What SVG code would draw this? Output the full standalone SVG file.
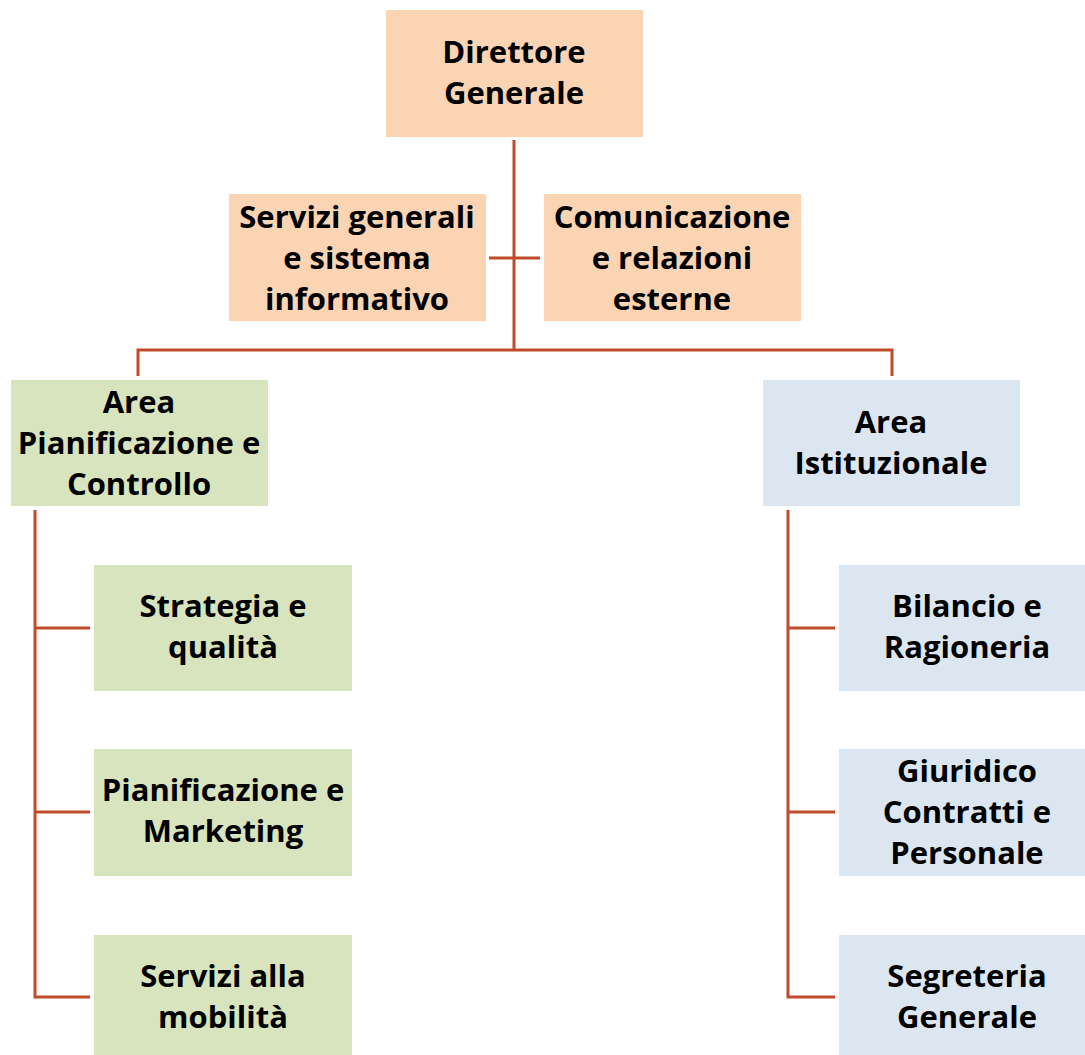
<svg xmlns="http://www.w3.org/2000/svg" width="1085" height="1055" viewBox="0 0 1085 1055">
<style>
.o{fill:#FBD4B4}
.g{fill:#D7E4BD}
.b{fill:#DCE6F1}
text{font-family:"Open Sans","Liberation Sans",sans-serif;font-weight:700;font-size:31px;fill:#000;text-anchor:middle;font-variant-ligatures:none}
.c{fill:none;stroke:#BF4B28;stroke-width:3}
</style>
<rect width="1085" height="1055" fill="#fff"/>
<g id="connectors" class="c">
<path d="M514,140V350"/>
<path d="M489,258H540"/>
<path d="M138,376V350H892V376"/>
<path d="M35,510V997H90M35,628H90M35,812H90"/>
<path d="M788,510V997H835M788,628H835M788,812H835"/>
</g>
<g id="direttore"><rect class="o" x="386" y="10" width="257" height="127"/><text x="514" y="63">Direttore</text><text x="514" y="104">Generale</text></g>
<g id="servizi-generali"><rect class="o" x="229" y="194" width="257" height="127"/><text x="357" y="228">Servizi generali</text><text x="357" y="269">e sistema</text><text x="357" y="310">informativo</text></g>
<g id="comunicazione"><rect class="o" x="544" y="194" width="257" height="127"/><text x="672" y="228">Comunicazione</text><text x="672" y="269">e relazioni</text><text x="672" y="310">esterne</text></g>
<g id="area-pianificazione"><rect class="g" x="11" y="380" width="257" height="126"/><text x="139" y="413">Area</text><text x="139" y="454">Pianificazione e</text><text x="139" y="495">Controllo</text></g>
<g id="area-istituzionale"><rect class="b" x="763" y="380" width="257" height="126"/><text x="891" y="433">Area</text><text x="891" y="474">Istituzionale</text></g>
<g id="strategia"><rect class="g" x="94" y="565" width="258" height="126"/><text x="223" y="617">Strategia e</text><text x="223" y="658">qualità</text></g>
<g id="pianificazione-marketing"><rect class="g" x="94" y="749" width="258" height="127"/><text x="223" y="801">Pianificazione e</text><text x="223" y="842">Marketing</text></g>
<g id="servizi-mobilita"><rect class="g" x="94" y="935" width="258" height="126"/><text x="223" y="987">Servizi alla</text><text x="223" y="1028">mobilità</text></g>
<g id="bilancio"><rect class="b" x="839" y="565" width="257" height="126"/><text x="967" y="617">Bilancio e</text><text x="967" y="658">Ragioneria</text></g>
<g id="giuridico"><rect class="b" x="839" y="749" width="257" height="127"/><text x="967" y="782">Giuridico</text><text x="967" y="823">Contratti e</text><text x="967" y="864">Personale</text></g>
<g id="segreteria"><rect class="b" x="839" y="935" width="257" height="126"/><text x="967" y="987">Segreteria</text><text x="967" y="1028">Generale</text></g>
</svg>
